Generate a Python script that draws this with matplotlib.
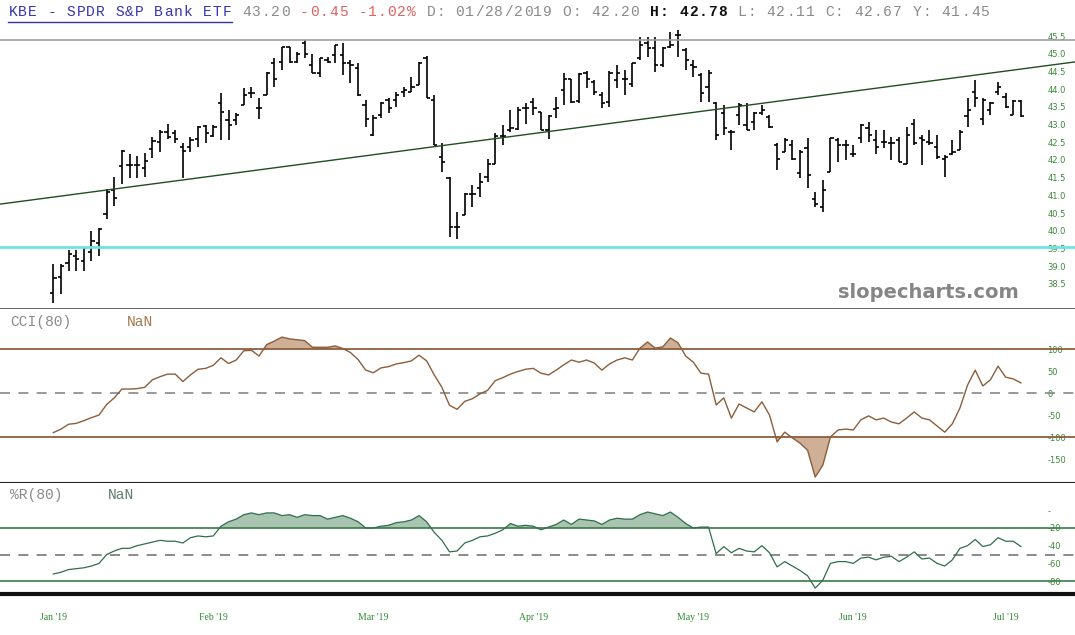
import numpy as np
import matplotlib.pyplot as plt
from matplotlib.lines import Line2D

# daily OHLC, one bar per trading day
opens = [38.24, 38.70, 39.10, 39.30, 39.15, 39.40, 39.65, 40.48, 41.15, 41.84,
         41.85, 41.85, 41.76, 42.30, 42.52, 42.80, 42.75, 42.36, 42.37, 42.60,
         42.95, 42.68, 43.60, 43.13, 43.13, 43.55, 43.90, 43.48, 43.83, 44.75,
         44.78, 45.20, 44.78, 45.30, 44.68, 44.45, 44.82, 44.96, 44.96, 44.73,
         44.60, 43.55, 42.70, 43.27, 43.69, 43.69, 43.93, 43.93, 44.12, 44.87,
         43.69, 42.09, 41.48, 40.11, 40.44, 41.05, 41.20, 41.53, 41.90, 42.67,
         42.85, 42.87, 43.48, 43.64, 43.36, 42.85, 43.43, 43.99, 44.28, 43.67,
         44.45, 44.21, 43.83, 43.64, 44.26, 44.30, 44.16, 44.87, 45.30, 45.15,
         44.68, 45.20, 45.53, 45.10, 44.68, 44.40, 44.07, 43.60, 43.32, 42.80,
         43.27, 42.99, 43.08, 43.32, 43.22, 42.42, 42.23, 42.42, 41.62, 42.33,
         40.91, 40.68, 41.67, 42.56, 42.42, 42.18, 42.61, 42.90, 42.56, 42.52,
         42.47, 42.56, 41.90, 43.03, 42.61, 42.52, 42.37, 42.04, 42.18, 42.28,
         43.24, 43.93, 43.17, 43.41, 43.93, 43.79, 43.27, 43.67]
highs = [39.05, 39.05, 39.45, 39.45, 39.55, 40.00, 40.07, 41.17, 41.53, 42.28,
         42.18, 42.10, 42.20, 42.65, 42.85, 43.02, 42.85, 42.47, 42.65, 42.96,
         42.99, 42.99, 43.88, 43.41, 43.32, 44.02, 44.07, 43.74, 44.49, 44.87,
         45.20, 45.20, 45.06, 45.39, 45.00, 44.87, 44.92, 45.25, 45.30, 44.82,
         44.73, 43.69, 43.27, 43.65, 43.74, 43.93, 44.07, 44.35, 44.78, 44.94,
         43.83, 42.47, 41.53, 40.54, 41.07, 41.29, 41.64, 42.04, 42.75, 42.99,
         43.41, 43.50, 43.60, 43.74, 43.36, 43.27, 43.79, 44.45, 44.30, 44.45,
         44.50, 44.26, 43.93, 44.50, 44.68, 44.54, 44.73, 45.48, 45.48, 45.48,
         45.20, 45.62, 45.67, 45.15, 44.82, 44.45, 44.54, 43.65, 43.55, 42.85,
         43.60, 43.60, 43.36, 43.55, 43.27, 42.47, 42.61, 42.56, 42.28, 42.61,
         41.10, 41.43, 42.61, 42.61, 42.56, 42.42, 43.03, 43.08, 42.85, 42.85,
         42.65, 42.65, 42.94, 43.17, 42.70, 42.85, 42.70, 42.14, 42.56, 42.85,
         43.74, 44.26, 43.74, 43.65, 44.21, 43.88, 43.69, 43.69]
lows = [37.95, 38.20, 38.87, 38.85, 38.87, 39.15, 39.30, 40.32, 40.70, 41.32,
        41.48, 41.50, 41.53, 42.07, 42.23, 42.58, 42.47, 41.48, 42.23, 42.37,
        42.47, 42.64, 42.56, 42.56, 42.99, 43.55, 43.74, 43.17, 43.83, 44.07,
        44.54, 44.73, 44.73, 44.87, 44.45, 44.35, 44.73, 44.73, 44.40, 44.18,
        43.80, 42.92, 42.68, 43.20, 43.32, 43.50, 43.79, 43.93, 44.12, 43.74,
        42.42, 41.67, 39.83, 39.78, 40.44, 40.68, 40.96, 41.38, 41.90, 42.42,
        42.80, 42.85, 43.03, 43.27, 42.85, 42.58, 43.20, 43.55, 43.60, 43.62,
        44.02, 43.83, 43.46, 43.50, 44.02, 43.83, 44.07, 44.82, 44.92, 44.49,
        44.63, 45.15, 44.92, 44.54, 44.35, 43.64, 43.64, 42.56, 42.70, 42.28,
        42.99, 42.85, 42.85, 43.27, 42.90, 41.71, 42.23, 41.99, 41.48, 41.20,
        40.68, 40.54, 41.67, 41.95, 41.99, 42.09, 42.47, 42.52, 42.18, 42.33,
        41.99, 41.95, 41.90, 42.42, 41.85, 42.42, 42.04, 41.53, 42.14, 42.28,
        42.94, 43.50, 42.99, 43.27, 43.83, 43.46, 43.27, 43.22]
closes = [38.66, 39.00, 39.35, 39.20, 39.50, 39.70, 40.05, 41.10, 40.93, 42.25,
          41.85, 41.87, 41.97, 42.53, 42.78, 42.64, 42.58, 42.25, 42.56, 42.94,
          42.75, 42.94, 43.36, 42.99, 43.27, 43.83, 43.90, 43.48, 44.45, 44.30,
          45.20, 44.78, 45.00, 45.00, 44.45, 44.87, 44.76, 45.25, 44.73, 44.68,
          43.85, 43.17, 43.20, 43.60, 43.46, 43.83, 43.97, 44.07, 44.73, 43.74,
          42.42, 41.95, 40.11, 40.11, 41.05, 41.05, 41.38, 41.90, 42.67, 42.67,
          42.90, 43.41, 43.46, 43.46, 42.85, 43.24, 43.48, 44.28, 43.64, 44.43,
          44.30, 43.93, 43.60, 44.45, 44.45, 44.30, 44.73, 45.25, 45.15, 44.68,
          45.15, 45.25, 45.53, 44.82, 44.63, 43.88, 44.45, 42.70, 42.90, 42.80,
          43.55, 42.85, 43.32, 43.41, 42.94, 42.04, 42.56, 42.04, 42.23, 41.57,
          40.77, 41.15, 42.61, 42.42, 42.42, 42.18, 42.99, 42.70, 42.37, 42.52,
          42.47, 41.95, 42.70, 42.47, 42.56, 42.47, 42.09, 42.09, 42.23, 42.80,
          43.41, 43.74, 43.69, 43.60, 44.07, 43.50, 43.67, 43.24]

cci = [-90, -82, -71, -69, -63, -56, -50, -26, -11, 9,
       9, 10, 13, 30, 37, 43, 43, 26, 41, 54,
       56, 63, 80, 67, 75, 96, 97, 84, 110, 118,
       127, 123, 121, 119, 104, 104, 104, 107, 101, 92,
       76, 52, 46, 57, 60, 66, 69, 73, 86, 73,
       41, 13, -28, -37, -19, -13, -2, 6, 28, 35,
       43, 49, 54, 56, 45, 41, 52, 64, 75, 70,
       75, 68, 52, 66, 75, 80, 75, 102, 116, 102,
       105, 125, 114, 84, 70, 45, 43, -27, -11, -57,
       -25, -34, -43, -20, -50, -111, -89, -102, -114, -130,
       -191, -164, -100, -84, -82, -84, -61, -52, -61, -57,
       -66, -70, -57, -43, -57, -61, -75, -89, -70, -34,
       18, 52, 16, 30, 61, 36, 32, 23]

wpr = [-72, -70, -67, -66, -65, -63, -60, -50, -46, -43,
       -43, -40, -38, -36, -34, -35, -35, -37, -31, -29,
       -30, -29, -18, -13, -10, -5, -3, -5, -3, -3,
       -6, -5, -8, -5, -6, -6, -10, -8, -6, -9,
       -13, -20, -20, -18, -17, -14, -13, -11, -6, -13,
       -25, -34, -47, -46, -37, -34, -30, -29, -26, -22,
       -15, -18, -17, -18, -22, -19, -16, -11, -16, -10,
       -11, -12, -16, -11, -9, -10, -10, -5, -2, -4,
       -6, -2, -8, -15, -20, -19, -19, -49, -41, -48,
       -43, -46, -47, -40, -48, -64, -58, -63, -68, -74,
       -88, -79, -60, -58, -58, -60, -54, -53, -56, -53,
       -52, -58, -53, -47, -55, -54, -60, -63, -56, -43,
       -40, -33, -41, -39, -31, -35, -35, -41]

months = ["Jan '19", "Feb '19", "Mar '19", "Apr '19", "May '19", "Jun '19", "Jul '19"]
month_idx = [0, 21, 42, 63, 84, 105, 125]

# user drawn lines
trend_x = [8, 100]
trend_y = [41.18, 43.80]
resist = 45.39
support = 39.55

W, H = 1075, 635
fig = plt.figure(figsize=(W / 100, H / 100), dpi=100)

def panel(top, bottom):
    return fig.add_axes([0, 1 - bottom / H, 1, (bottom - top) / H])

ax1 = panel(0, 309)
ax2 = panel(309, 483)
ax3 = panel(483, 594)

x = np.arange(len(closes))
o, h, l, c = map(np.array, (opens, highs, lows, closes))
cci = np.array(cci, dtype=float)
wpr = np.array(wpr, dtype=float)

lab_green = '#3a8a3a'
for ax in (ax1, ax2, ax3):
    ax.set_xlim(-7.0, 134.1)
    for s in ('top', 'left', 'right'):
        ax.spines[s].set_visible(False)
    ax.yaxis.tick_right()
    ax.tick_params(axis='y', direction='in', length=0, pad=-20,
                   labelsize=6, labelcolor=lab_green)
    ax.set_xticks([])

# ---- price panel ----
ax1.set_ylim(37.79, 46.52)
ax1.vlines(x, l, h, color='black', lw=1.2)
ax1.hlines(o, x - 0.42, x, color='black', lw=1.2)
ax1.hlines(c, x, x + 0.42, color='black', lw=1.2)
ax1.axline((trend_x[0], trend_y[0]), (trend_x[1], trend_y[1]), color='#1f4f1f', lw=1)
ax1.axhline(resist, color='#a0a0a0', lw=1.2)
ax1.axhline(support, color='#6fe3e3', lw=2)
ax1.set_yticks(np.arange(38.5, 45.51, 0.5))
ax1.set_yticklabels(['%.1f' % v for v in np.arange(38.5, 45.51, 0.5)])
ax1.spines['bottom'].set_color('#555555')
ax1.spines['bottom'].set_linewidth(2)
ax1.text(838 / W, 1 - 292 / 309, 'slopecharts.com', transform=ax1.transAxes,
         fontsize=14, fontweight='bold', color='#858585', va='center',
         family='DejaVu Sans')

# ---- CCI panel ----
brown = '#8b5e3c'
ax2.set_ylim(-204.5, 190.9)
ax2.axhline(100, color=brown, lw=1.3)
ax2.axhline(-100, color=brown, lw=1.3)
ax2.axhline(0, color='#888888', lw=1.2, dashes=(6, 5))
ax2.fill_between(x, cci, 100, where=cci > 100, interpolate=True, color='#cfb096', lw=0)
ax2.fill_between(x, cci, -100, where=cci < -100, interpolate=True, color='#cfb096', lw=0)
ax2.plot(x, cci, color=brown, lw=1)
ax2.set_yticks([100, 50, 0, -50, -100, -150])
ax2.set_yticklabels(['100', '50', '0', '-50', '-100', '-150'])
ax2.spines['bottom'].set_color('#222222')
ax2.spines['bottom'].set_linewidth(1.5)

# ---- Williams %R panel ----
green = '#2f6e4c'
ax3.set_ylim(-94.6, 30.8)
ax3.axhline(-20, color='#3c7a46', lw=1.2)
ax3.axhline(-80, color='#3c7a46', lw=1.2)
ax3.axhline(-50, color='#777777', lw=1.2, dashes=(6, 5))
ax3.fill_between(x, wpr, -20, where=wpr > -20, interpolate=True, color='#a9c4b1', lw=0)
ax3.plot(x, wpr, color=green, lw=0.9)
ax3.set_yticks([0, -20, -40, -60, -80])
ax3.set_yticklabels(['-', '-20', '-40', '-60', '-80'])
ax3.spines['bottom'].set_color('#111111')
ax3.spines['bottom'].set_linewidth(3)
ax3.set_xticks(month_idx)
ax3.set_xticklabels(months, family='Liberation Serif', fontsize=7, color='#2e8b2e')
ax3.tick_params(axis='x', length=0, pad=14)

# ---- header, laid out char by char on a fixed pitch ----
mono = 'Liberation Mono'
cw = 9.72
parts = [("KBE - SPDR S&P Bank ETF", '#3434b0', 'normal'),
         (" 43.20", '#8a8a8a', 'normal'),
         (" -0.45 -1.02%", '#e06060', 'normal'),
         (" D: 01/28/2019 O: 42.20", '#8a8a8a', 'normal'),
         (" H: 42.78", '#111111', 'bold'),
         (" L: 42.11 C: 42.67 Y: 41.45", '#8a8a8a', 'normal')]
n = 0
for txt, col, wt in parts:
    for ch in txt:
        if ch != ' ':
            fig.text((8 + n * cw + cw / 2) / W, 1 - 12 / H, ch, family=mono,
                     fontsize=10.5, color=col, weight=wt, va='center', ha='center')
        n += 1
fig.add_artist(Line2D([8 / W, 232 / W], [1 - 22 / H] * 2, color='#3434b0', lw=1))

fig.text(10 / W, 1 - 322 / H, 'CCI(80)', family=mono, fontsize=10.5, color='#8a8a8a', va='center')
fig.text(127 / W, 1 - 322 / H, 'NaN', family=mono, fontsize=10.5, color='#a57a4f', va='center')
fig.text(10 / W, 1 - 495 / H, '%R(80)', family=mono, fontsize=10.5, color='#8a8a8a', va='center')
fig.text(108 / W, 1 - 495 / H, 'NaN', family=mono, fontsize=10.5, color='#5f7f6f', va='center')

fig.savefig('out.png', dpi=100)
